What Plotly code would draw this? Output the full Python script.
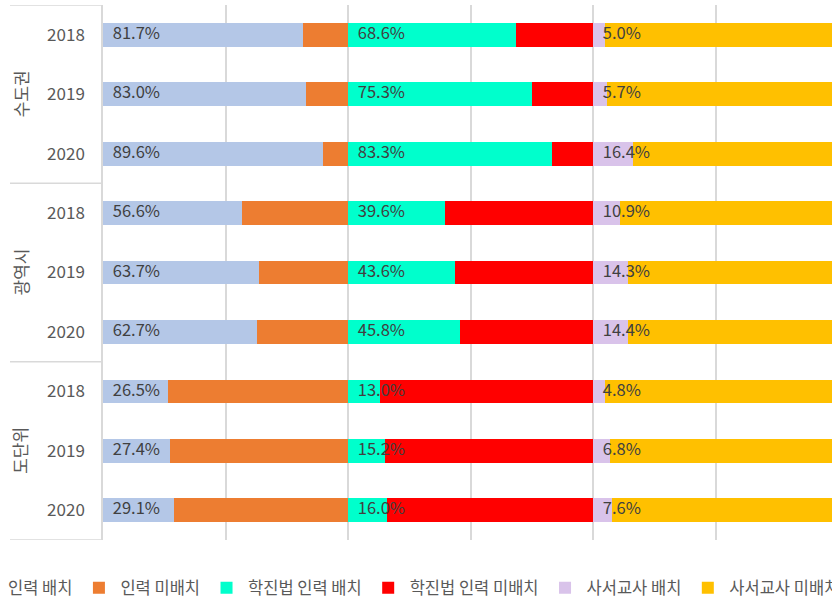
import plotly.graph_objects as go

groups = ["수도권", "광역시", "도단위"]
years = ["2018", "2019", "2020"]

staff_assigned = [81.7, 83.0, 89.6, 56.6, 63.7, 62.7, 26.5, 27.4, 29.1]
staff_unassigned = [18.3, 17.0, 10.4, 43.4, 36.3, 37.3, 73.5, 72.6, 70.9]
law_assigned = [68.6, 75.3, 83.3, 39.6, 43.6, 45.8, 13.0, 15.2, 16.0]
law_unassigned = [31.4, 24.7, 16.7, 60.4, 56.4, 54.2, 87.0, 84.8, 84.0]
teacher_assigned = [5.0, 5.7, 16.4, 10.9, 14.3, 14.4, 4.8, 6.8, 7.6]
teacher_unassigned = [95.0, 94.3, 83.6, 89.1, 85.7, 85.6, 95.2, 93.2, 92.4]

series_names = ["인력 배치", "인력 미배치", "학진법 인력 배치", "학진법 인력 미배치", "사서교사 배치", "사서교사 미배치"]
series_values = [staff_assigned, staff_unassigned, law_assigned, law_unassigned, teacher_assigned, teacher_unassigned]
colors = ["#b4c7e7", "#ed7d31", "#00ffcc", "#ff0000", "#d9c3ea", "#ffc000"]
section_starts = [0, 100, 200]
labelled = [staff_assigned, law_assigned, teacher_assigned]

FONT = "Noto Sans CJK KR"
rows = list(range(len(groups) * len(years)))
year_ticks = [y for g in groups for y in years]

X_MAX = 320          # axis shown up to here; the page crops at about 297.6
PX_PER_UNIT = 2.45
PLOT_W = X_MAX * PX_PER_UNIT
L = 103
W = int(L + PLOT_W + 20)
ITEM_W = 33

fig = go.Figure()
for name, vals, col in zip(series_names, series_values, colors):
    fig.add_trace(go.Bar(y=rows, x=vals, name=name, orientation="h",
                         marker=dict(color=col, line=dict(width=0)),
                         hoverinfo="x+name"))

for start, vals in zip(section_starts, labelled):
    fig.add_trace(go.Scatter(
        x=[start + 4] * len(rows), y=rows, mode="text",
        text=[f"{v:.1f}%" for v in vals], textposition="middle right",
        textfont=dict(family=FONT, size=16.5, color="#404040"),
        showlegend=False, hoverinfo="skip", cliponaxis=False))

for i, g in enumerate(groups):
    center = i * len(years) + (len(years) - 1) / 2
    fig.add_annotation(x=-(L - 20) / PLOT_W, xref="paper", y=center, yref="y", text=g,
                       textangle=-90, showarrow=False, xanchor="center",
                       font=dict(family=FONT, size=17, color="#595959"))
for k in range(len(groups) + 1):
    fig.add_shape(type="line", xref="paper", yref="y", x0=-(L - 10) / PLOT_W, x1=0,
                  y0=k * len(years) - 0.5, y1=k * len(years) - 0.5,
                  line=dict(color="#d9d9d9", width=1.5))

fig.update_layout(
    width=W, height=602,
    margin=dict(l=L, r=W - L - PLOT_W, t=5, b=62, autoexpand=False),
    barmode="stack", bargap=0.6,
    plot_bgcolor="white", paper_bgcolor="white",
    font=dict(family=FONT, size=16, color="#595959"),
    showlegend=True,
    legend=dict(orientation="h", x=-(L + 32 + (ITEM_W - 30)) / PLOT_W, xanchor="left",
                y=-(588 - 540) / 535, yanchor="middle",
                font=dict(family=FONT, size=16.5, color="#595959"),
                traceorder="normal", itemwidth=ITEM_W),
    xaxis=dict(range=[0, X_MAX], dtick=50, tick0=0, showgrid=True,
               gridcolor="#d9d9d9", gridwidth=1.5, showticklabels=False,
               zeroline=False, showline=False),
    yaxis=dict(tickmode="array", tickvals=rows, ticktext=year_ticks,
               range=[8.5, -0.5], showgrid=False,
               showline=True, linecolor="#d9d9d9", linewidth=1.5,
               ticks="", ticklabelstandoff=13,
               tickfont=dict(family=FONT, size=17, color="#595959")),
)
fig.write_html("out.html", config={"displayModeBar": False},
               post_script="document.body.style.margin='0';document.body.style.overflow='hidden';")
